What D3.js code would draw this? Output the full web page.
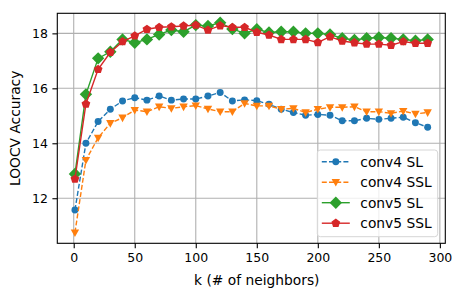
<!DOCTYPE html>
<html lang="en">
<head>
<meta charset="UTF-8">
<title>LOOCV Accuracy vs k</title>
<script src="https://cdnjs.cloudflare.com/ajax/libs/d3/7.8.5/d3.min.js"></script>
<style>
    body { margin: 0; background: #fff; }
    svg { font-family: "DejaVu Sans", sans-serif; }
    .grid line { stroke: #b0b0b0; stroke-width: 1.1; }
</style>
</head>
<body>
<div id="chart"></div>
<script>
    // k values (number of neighbours)
    const ks = [1, 10, 20, 30, 40, 50, 60, 70, 80, 90, 100, 110, 120, 130, 140,
                150, 160, 170, 180, 190, 200, 210, 220, 230, 240, 250, 260, 270, 280, 290];

    const conv4SL = [11.57, 14.00, 14.79, 15.24, 15.54, 15.66, 15.57, 15.72, 15.57, 15.61,
                     15.61, 15.72, 15.85, 15.54, 15.58, 15.55, 15.42, 15.24, 15.12, 15.02,
                     15.05, 15.02, 14.82, 14.82, 14.91, 14.87, 14.91, 14.95, 14.75, 14.58];
    const conv4SSL = [10.75, 13.39, 14.20, 14.73, 14.93, 15.21, 15.15, 15.33, 15.27, 15.33,
                      15.37, 15.25, 15.15, 15.15, 15.45, 15.36, 15.36, 15.24, 15.27, 15.12,
                      15.24, 15.31, 15.31, 15.33, 15.15, 15.15, 15.09, 15.17, 15.07, 15.12];
    const conv5SL = [12.88, 15.78, 17.09, 17.33, 17.78, 17.66, 17.78, 17.96, 18.12, 18.06,
                     18.30, 18.27, 18.39, 18.16, 18.00, 18.15, 18.03, 18.06, 18.06, 18.00,
                     18.00, 17.96, 17.82, 17.76, 17.82, 17.85, 17.82, 17.78, 17.73, 17.78];
    const conv5SSL = [12.70, 15.43, 16.69, 17.31, 17.70, 17.91, 18.15, 18.22, 18.24, 18.27,
                      18.30, 18.12, 18.28, 18.22, 18.22, 18.04, 17.94, 17.78, 17.78, 17.78,
                      17.67, 17.88, 17.72, 17.66, 17.61, 17.61, 17.57, 17.70, 17.64, 17.64];

    const xTicks = [0, 50, 100, 150, 200, 250, 300];
    const yTicks = [12, 14, 16, 18];

    const series = [
        { name: "conv4 SL",  values: conv4SL,  color: "#1f77b4", dash: "5,2.2", marker: "circle" },
        { name: "conv4 SSL", values: conv4SSL, color: "#ff7f0e", dash: "5,2.2", marker: "triangle" },
        { name: "conv5 SL",  values: conv5SL,  color: "#2ca02c", dash: null,    marker: "diamond" },
        { name: "conv5 SSL", values: conv5SSL, color: "#d62728", dash: null,    marker: "pentagon" }
    ];

    const width = 460, height = 297;
    const margin = { left: 57.3, right: 14.7, top: 13.3, bottom: 53.7 };
    const innerW = width - margin.left - margin.right;
    const innerH = height - margin.top - margin.bottom;

    const svg = d3.select("#chart").append("svg")
        .attr("width", width)
        .attr("height", height);

    const g = svg.append("g").attr("transform", `translate(${margin.left},${margin.top})`);

    const x = d3.scaleLinear().domain([-13.45, 304.45]).range([0, innerW]);
    const y = d3.scaleLinear().domain([10.36, 18.73]).range([innerH, 0]);

    // grid
    g.append("g").attr("class", "grid")
        .selectAll("line").data(xTicks).enter().append("line")
        .attr("x1", d => x(d)).attr("x2", d => x(d))
        .attr("y1", 0).attr("y2", innerH);
    g.append("g").attr("class", "grid")
        .selectAll("line").data(yTicks).enter().append("line")
        .attr("x1", 0).attr("x2", innerW)
        .attr("y1", d => y(d)).attr("y2", d => y(d));

    // axes
    const xAxis = g.append("g")
        .attr("transform", `translate(0,${innerH})`)
        .call(d3.axisBottom(x).tickValues(xTicks).tickSize(4.9).tickPadding(4.5));
    const yAxis = g.append("g")
        .call(d3.axisLeft(y).tickValues(yTicks).tickSize(4.9).tickPadding(4.5));
    [xAxis, yAxis].forEach(a => {
        a.select(".domain").remove();
        a.selectAll("text").attr("font-size", "12.5px").attr("fill", "#000")
            .attr("font-family", "DejaVu Sans, sans-serif");
        a.selectAll("line").attr("stroke", "#000").attr("stroke-width", 1.1);
    });

    // markers
    function markerPath(type) {
        if (type === "circle") return d3.symbol().type(d3.symbolCircle).size(38)();
        if (type === "triangle") {
            const r = 4.2;
            return `M${-r},${-r * 0.75}L${r},${-r * 0.75}L0,${r * 1.05}Z`;
        }
        if (type === "diamond") {
            const r = 6.2;
            return `M0,${-r}L${r},0L0,${r}L${-r},0Z`;
        }
        // pentagon
        const r = 4.6;
        const pts = d3.range(5).map(i => {
            const a = -Math.PI / 2 + i * 2 * Math.PI / 5;
            return [r * Math.cos(a), r * Math.sin(a)];
        });
        return "M" + pts.map(p => p.join(",")).join("L") + "Z";
    }

    const line = d3.line().x(d => x(d[0])).y(d => y(d[1]));

    const plot = g.append("g");
    series.forEach(s => {
        const pts = ks.map((k, i) => [k, s.values[i]]);
        plot.append("path")
            .attr("d", line(pts))
            .attr("fill", "none")
            .attr("stroke", s.color)
            .attr("stroke-width", 1.4)
            .attr("stroke-dasharray", s.dash);
        plot.selectAll(null).data(pts).enter().append("path")
            .attr("d", markerPath(s.marker))
            .attr("transform", d => `translate(${x(d[0])},${y(d[1])})`)
            .attr("fill", s.color);
    });

    // frame
    g.append("rect")
        .attr("width", innerW).attr("height", innerH)
        .attr("fill", "none").attr("stroke", "#000").attr("stroke-width", 1.1);

    // axis labels
    svg.append("text")
        .attr("x", margin.left + x(150)).attr("y", 285)
        .attr("text-anchor", "middle").attr("font-size", "13.8px")
        .text("k (# of neighbors)");
    svg.append("text")
        .attr("transform", `translate(19.8,${margin.top + innerH / 2}) rotate(-90)`)
        .attr("text-anchor", "middle").attr("font-size", "13.8px")
        .text("LOOCV Accuracy");

    // legend
    const legend = svg.append("g").attr("transform", "translate(317.3,150)");
    legend.append("rect")
        .attr("width", 120.4).attr("height", 86.7)
        .attr("rx", 3)
        .attr("fill", "rgba(255,255,255,0.8)")
        .attr("stroke", "#d6d6d6").attr("stroke-width", 1);
    series.forEach((s, i) => {
        const row = legend.append("g").attr("transform", `translate(0,${11.7 + i * 20.5})`);
        row.append("line")
            .attr("x1", 4.5).attr("x2", 32.5)
            .attr("stroke", s.color).attr("stroke-width", 1.4)
            .attr("stroke-dasharray", s.dash);
        row.append("path")
            .attr("d", markerPath(s.marker))
            .attr("transform", "translate(18.5,0)")
            .attr("fill", s.color);
        row.append("text")
            .attr("x", 43).attr("y", 0).attr("dy", "0.36em")
            .attr("font-size", "13.8px")
            .text(s.name);
    });
</script>
</body>
</html>
